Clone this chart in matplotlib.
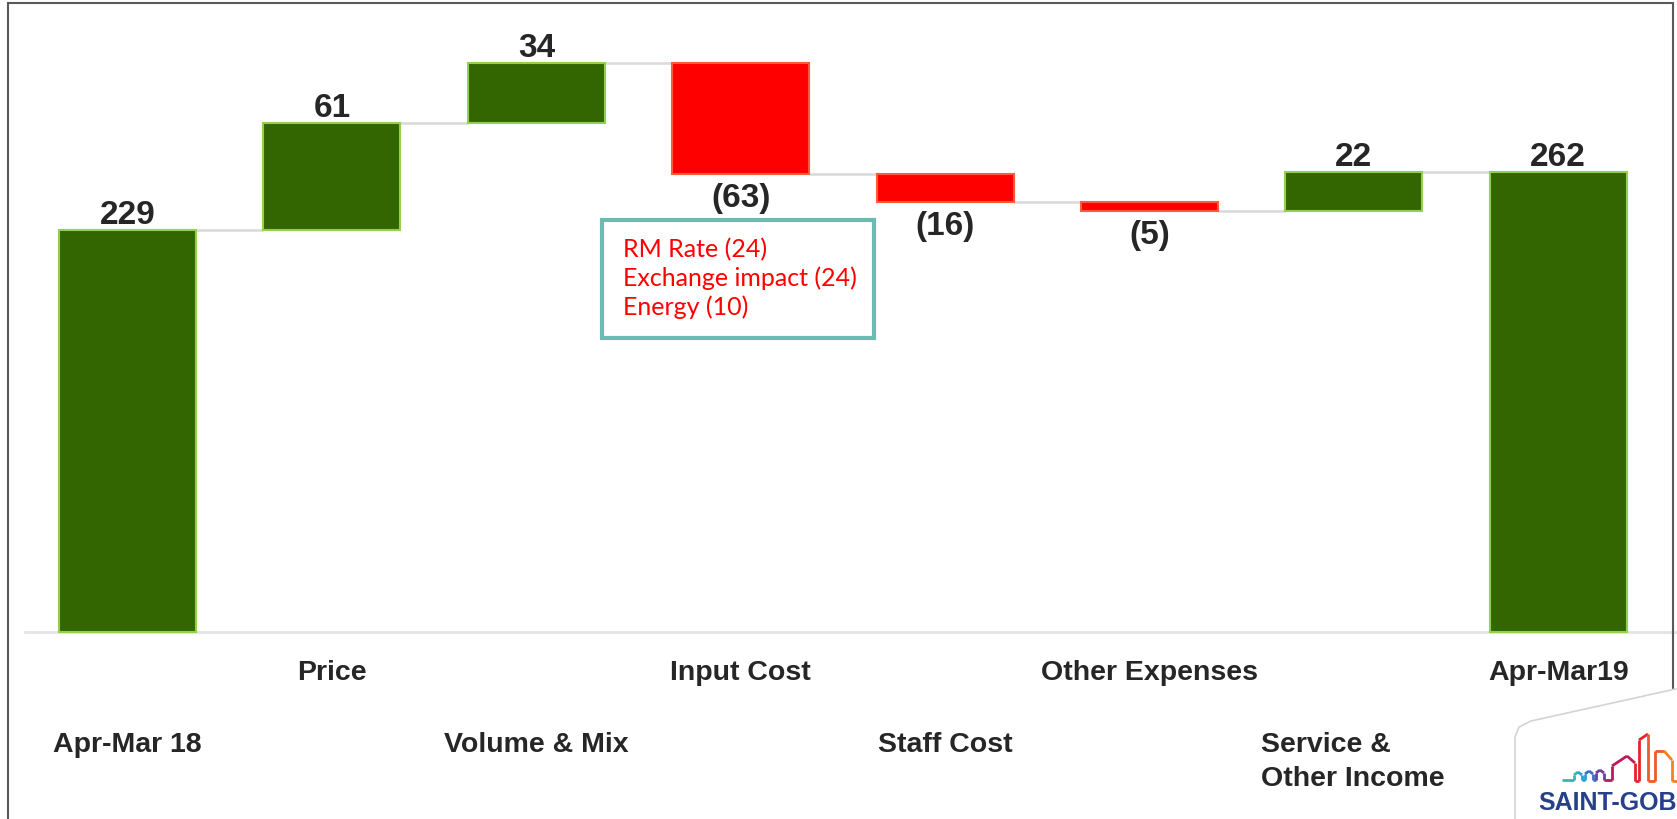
import matplotlib
matplotlib.use("Agg")
import matplotlib.pyplot as plt
from matplotlib.patches import Rectangle, Polygon
from matplotlib.collections import LineCollection
import matplotlib.transforms as mtransforms
import numpy as np

# ---------------- data ----------------
categories = ["Apr-Mar 18", "Price", "Volume & Mix", "Input Cost", "Staff Cost",
              "Other Expenses", "Service &\nOther Income", "Apr-Mar19"]
values = [229, 61, 34, -63, -16, -5, 22, 262]
is_total = [True, False, False, False, False, False, False, True]
annotation_lines = ["RM Rate (24)", "Exchange impact (24)", "Energy (10)"]
logo_text = "SAINT-GOBAIN"

# ---------------- style ----------------
GREEN = "#336600"
GREEN_EDGE = "#92d050"
RED = "#ff0000"
RED_EDGE = "#ff5a3c"
CONN = "#d9d9d9"
TXT = "#262626"

W, H = 1677, 820
fig = plt.figure(figsize=(W / 100, H / 100), dpi=100)
ax = fig.add_axes([0, 0, 1, 1])
ax.set_axis_off()

spacing_px = 204.4
x0_px = 127.5
xmin = -x0_px / spacing_px
ax.set_xlim(xmin, xmin + W / spacing_px)
px_per_unit = 1.755
base_from_bottom = H - 633
ymin = -base_from_bottom / px_per_unit
ax.set_ylim(ymin, ymin + H / px_per_unit)

bar_w = 0.67

# waterfall geometry
bottoms, heights, levels = [], [], []
running = 0
for v, tot in zip(values, is_total):
    if tot:
        bottoms.append(0)
        heights.append(v)
        running = v
    else:
        bottoms.append(running if v >= 0 else running + v)
        heights.append(abs(v))
        running += v
    levels.append(running)

x = np.arange(len(values))
colors = [GREEN if v >= 0 else RED for v in values]
edges = [GREEN_EDGE if v >= 0 else RED_EDGE for v in values]
ax.bar(x, heights, bottom=bottoms, width=bar_w, color=colors,
       edgecolor=edges, linewidth=1.5, zorder=3)

# connectors
for i in range(len(values) - 1):
    ax.plot([x[i] + bar_w / 2, x[i + 1] - bar_w / 2], [levels[i], levels[i]],
            color=CONN, lw=1.8, zorder=2, solid_capstyle="butt")

# baseline
ax.plot([25 / W, 1.0], [0, 0], transform=ax.get_yaxis_transform(),
        color="#e3e3e3", lw=2, zorder=2)

# value labels
for i, v in enumerate(values):
    if v >= 0:
        ax.annotate(f"{v}", (x[i], bottoms[i] + heights[i]), xytext=(0, 5),
                    textcoords="offset points", ha="center", va="baseline",
                    fontsize=24, fontweight="bold", color=TXT,
                    family="Liberation Sans", zorder=5)
    else:
        ax.annotate(f"({-v})", (x[i], bottoms[i]), xytext=(0, -17),
                    textcoords="offset points", ha="center", va="center",
                    fontsize=24, fontweight="bold", color=TXT,
                    family="Liberation Sans", zorder=5)

# category labels (two staggered rows)
blend = mtransforms.blended_transform_factory(ax.transData, fig.transFigure)
row_baseline = {1: 1 - 680 / H, 0: 1 - 752 / H}
line_step = 34 / H
for i, cat in enumerate(categories):
    row = i % 2
    lines = cat.split("\n")
    if len(lines) == 1:
        ax.text(x[i], row_baseline[row], cat, transform=blend, ha="center",
                va="baseline", fontsize=20.5, fontweight="bold", color=TXT,
                family="Liberation Sans")
    else:
        for j, ln in enumerate(lines):
            ax.text(x[i] - 0.455, row_baseline[row] - j * line_step, ln,
                    transform=blend, ha="left", va="baseline", fontsize=20.5,
                    fontweight="bold", color=TXT, family="Liberation Sans")


def fx(px):
    return px / W


def fy(py):
    return 1 - py / H


# annotation box for Input Cost
fig.patches.append(Rectangle((fx(602), fy(339)), fx(874) - fx(602), fy(221) - fy(339),
                             transform=fig.transFigure, fill=True, facecolor="white",
                             edgecolor="#6cbbb1", lw=3, zorder=6))
for j, ln in enumerate(annotation_lines):
    fig.text(fx(623), fy(257 + j * 29), ln, ha="left", va="baseline",
             fontsize=18, color=RED, family="Lato", zorder=7)

# outer frame
fig.patches.append(Rectangle((fx(8), fy(830)), fx(1673) - fx(8), fy(4) - fy(830),
                             transform=fig.transFigure, fill=False,
                             edgecolor="#595959", lw=1.5, zorder=1))

# logo card (bottom right)
card = Polygon([(fx(1515), fy(830)), (fx(1515), fy(738)), (fx(1519), fy(728)),
                (fx(1531), fy(722)), (fx(1680), fy(689)), (fx(1680), fy(830))],
               closed=True, transform=fig.transFigure, facecolor="white",
               edgecolor="#d4d4d4", lw=1.2, zorder=8)
fig.patches.append(card)
sky = np.array([(1562, 781), (1574, 781), (1574, 776), (1578, 773), (1582, 776),
                (1582, 781), (1585, 781), (1585, 775), (1589, 772), (1593, 775),
                (1593, 781), (1596, 781), (1596, 774), (1600, 771), (1604, 774),
                (1604, 781), (1612, 781), (1612, 767), (1627, 757), (1635, 764),
                (1635, 782), (1639, 782), (1639, 741), (1648, 735), (1648, 782),
                (1655, 782), (1655, 752), (1664, 752), (1672, 761), (1672, 782),
                (1680, 782)], dtype=float)
segs = [[(fx(a[0]), fy(a[1])), (fx(b[0]), fy(b[1]))] for a, b in zip(sky[:-1], sky[1:])]
grad = ["#35b6b4", "#2a9fd6", "#3d6fc4", "#6b3fa0", "#c0185a", "#e8202f", "#f0592a", "#f5821f"]
seg_colors = [grad[min(int(t * (len(grad) - 1) + 0.5), len(grad) - 1)]
              for t in np.linspace(0, 1, len(segs))]
lc = LineCollection(segs, colors=seg_colors, linewidths=2.0,
                    transform=fig.transFigure, zorder=9)
fig.add_artist(lc)
fig.text(fx(1538), fy(810), logo_text, ha="left", va="baseline", fontsize=18,
         fontweight="bold", color="#27408b", family="Liberation Sans", zorder=9)

fig.savefig("out.png", dpi=100)
